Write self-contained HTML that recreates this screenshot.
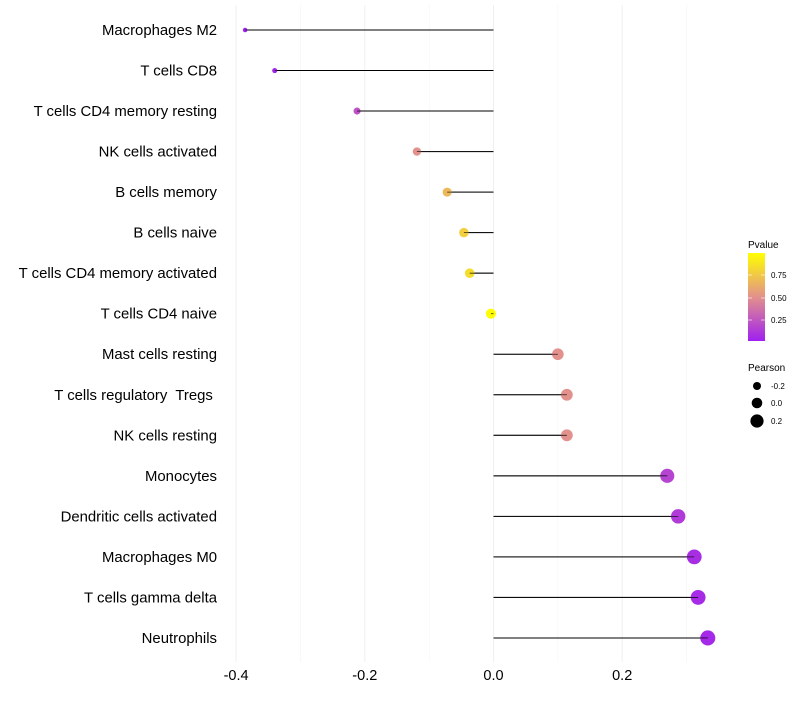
<!DOCTYPE html>
<html><head><meta charset="utf-8"><style>
body{margin:0;background:#fff;font-family:"Liberation Sans",Arial,sans-serif;}
text{white-space:pre;}
</style></head><body>
<svg id="chart" width="800" height="700" xmlns="http://www.w3.org/2000/svg" font-family="Liberation Sans, Arial, sans-serif">
<defs><linearGradient id="pg" x1="0" y1="1" x2="0" y2="0">
<stop offset="0" stop-color="#A020F0"/><stop offset="0.5" stop-color="#E2918C"/><stop offset="1" stop-color="#FFFF00"/>
</linearGradient></defs>
<g id="grid"></g><g id="marks"></g><g id="labels"></g>
<g>
<text x="748" y="248" font-size="10">Pvalue</text>
<rect x="748" y="253" width="17" height="88" fill="url(#pg)"/>
<line x1="748" x2="752" y1="275" y2="275" stroke="#fff" stroke-opacity="0.6"/><line x1="761" x2="765" y1="275" y2="275" stroke="#fff" stroke-opacity="0.6"/>
<line x1="748" x2="752" y1="298" y2="298" stroke="#fff" stroke-opacity="0.6"/><line x1="761" x2="765" y1="298" y2="298" stroke="#fff" stroke-opacity="0.6"/>
<line x1="748" x2="752" y1="320" y2="320" stroke="#fff" stroke-opacity="0.6"/><line x1="761" x2="765" y1="320" y2="320" stroke="#fff" stroke-opacity="0.6"/>
<text x="771" y="278" font-size="8">0.75</text><text x="771" y="301" font-size="8">0.50</text><text x="771" y="323" font-size="8">0.25</text>
</g>
<g>
<text x="748" y="371" font-size="10">Pearson</text>
<circle cx="757" cy="386" r="4" fill="#000"/><text x="771" y="389" font-size="8">-0.2</text>
<circle cx="757" cy="403" r="5.3" fill="#000"/><text x="771" y="406" font-size="8">0.0</text>
<circle cx="757" cy="421" r="6.6" fill="#000"/><text x="771" y="424" font-size="8">0.2</text>
</g>
</svg>
<script>
const cells=["Macrophages M2","T cells CD8","T cells CD4 memory resting","NK cells activated","B cells memory","B cells naive","T cells CD4 memory activated","T cells CD4 naive","Mast cells resting","T cells regulatory  Tregs ","NK cells resting","Monocytes","Dendritic cells activated","Macrophages M0","T cells gamma delta","Neutrophils"];
const pearson=[-0.386,-0.340,-0.212,-0.119,-0.072,-0.046,-0.037,-0.004,0.100,0.114,0.114,0.270,0.287,0.312,0.318,0.333];
const pvalue=[0.01,0.02,0.22,0.5,0.68,0.78,0.84,0.99,0.5,0.5,0.5,0.16,0.12,0.06,0.05,0.04];
const ticks=[-0.4,-0.2,0.0,0.2];
const tickLabels=["-0.4","-0.2","0.0","0.2"];
const minor=[-0.3,-0.1,0.1,0.3];
const NS="http://www.w3.org/2000/svg";
const x=v=>493.5+v*643.5;
const y=i=>30+i*40.53;
const r=v=>2.2+(v+0.39)/0.72*5.3;
function col(p){
  const s=[[160,32,240],[226,145,140],[255,255,0]];
  let a,b,t;
  if(p<0.5){a=s[0];b=s[1];t=p/0.5;}else{a=s[1];b=s[2];t=(p-0.5)/0.5;}
  return `rgb(${a.map((c,k)=>Math.round(c+(b[k]-c)*t)).join(',')})`;
}
function mk(tag,at,par){const e=document.createElementNS(NS,tag);for(const k in at)e.setAttribute(k,at[k]);document.getElementById(par).appendChild(e);return e;}
minor.forEach(v=>{const e=mk('line',{x1:x(v),x2:x(v),y1:5,y2:662,stroke:'#f4f4f4','stroke-width':0.6},'grid');

});
ticks.forEach((v,i)=>{const e=mk('line',{x1:x(v),x2:x(v),y1:5,y2:662,stroke:'#f0f0f0','stroke-width':1},'grid');


const t=mk('text',{x:x(v),y:680,'font-size':14.5,'text-anchor':'middle'},'labels');t.textContent=tickLabels[i];

});
cells.forEach((c,i)=>{
const l=mk('line',{x1:x(0),x2:x(pearson[i]),y1:y(i),y2:y(i),stroke:'#000','stroke-width':1},'marks');


const d=mk('circle',{cx:x(pearson[i]),cy:y(i),r:r(pearson[i]),fill:col(pvalue[i])},'marks');


const l2=mk('line',{x1:x(0),x2:x(pearson[i]),y1:y(i),y2:y(i),stroke:'#000','stroke-width':0.8,'stroke-opacity':0.8},'marks');


const t=mk('text',{x:217,y:y(i)+5,'font-size':14.9,'text-anchor':'end'},'labels');t.textContent=c;


});
</script>
</body></html>
